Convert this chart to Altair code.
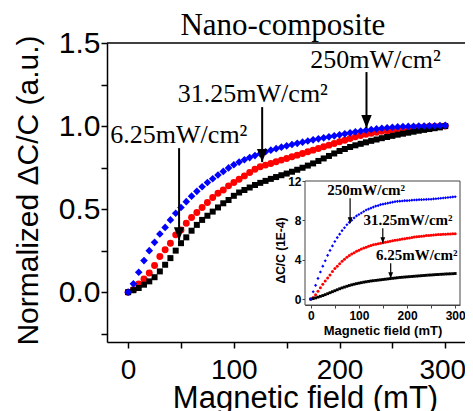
import altair as alt
import pandas as pd

# ---------------- data ----------------
FIELD = [0, 5, 10, 15, 20, 25, 30, 35, 40, 45,
         50, 55, 60, 65, 70, 75, 80, 85, 90, 95,
         100, 105, 110, 115, 120, 125, 130, 135, 140, 145,
         150, 155, 160, 165, 170, 175, 180, 185, 190, 195,
         200, 205, 210, 215, 220, 225, 230, 235, 240, 245,
         250, 255, 260, 265, 270, 275, 280, 285, 290, 295,
         300]

MAIN_250 = [0, 0.05, 0.12, 0.19, 0.25, 0.30, 0.35, 0.39, 0.435, 0.475,
            0.51, 0.545, 0.578, 0.607, 0.635, 0.66, 0.683, 0.705, 0.727, 0.748,
            0.767, 0.783, 0.797, 0.81, 0.822, 0.834, 0.845, 0.855, 0.864, 0.873,
            0.881, 0.889, 0.896, 0.903, 0.91, 0.917, 0.923, 0.929, 0.935, 0.941,
            0.947, 0.953, 0.959, 0.965, 0.97, 0.975, 0.979, 0.983, 0.987, 0.99,
            0.993, 0.995, 0.997, 0.998, 0.999, 1.0, 1.0, 1.001, 1.002, 1.003,
            1.004]
MAIN_31 = [0, 0.015, 0.05, 0.08, 0.115, 0.16, 0.215, 0.255, 0.295, 0.345,
           0.375, 0.415, 0.45, 0.48, 0.51, 0.54, 0.57, 0.595, 0.615, 0.64,
           0.66, 0.68, 0.70, 0.72, 0.74, 0.755, 0.765, 0.775, 0.785, 0.795,
           0.805, 0.815, 0.825, 0.835, 0.845, 0.855, 0.865, 0.875, 0.885, 0.895,
           0.905, 0.915, 0.925, 0.935, 0.943, 0.95, 0.957, 0.963, 0.968, 0.972,
           0.976, 0.98, 0.984, 0.987, 0.99, 0.993, 0.995, 0.997, 0.998, 0.999,
           1.0]
MAIN_6 = [0, 0.012, 0.025, 0.045, 0.065, 0.09, 0.125, 0.165, 0.205, 0.25,
          0.295, 0.33, 0.37, 0.405, 0.435, 0.46, 0.485, 0.51, 0.535, 0.555,
          0.58, 0.6, 0.615, 0.63, 0.645, 0.658, 0.67, 0.682, 0.693, 0.704,
          0.714, 0.725, 0.737, 0.749, 0.762, 0.775, 0.79, 0.805, 0.82, 0.835,
          0.85, 0.862, 0.874, 0.884, 0.893, 0.902, 0.911, 0.919, 0.927, 0.934,
          0.941, 0.948, 0.954, 0.96, 0.966, 0.972, 0.977, 0.982, 0.987, 0.992,
          1.0]

INSET_250 = [0, 0.75, 1.4, 2.1, 2.75, 3.35, 3.9, 4.45, 4.95, 5.4,
             5.85, 6.25, 6.6, 6.95, 7.25, 7.55, 7.8, 8.0, 8.25, 8.45,
             8.6, 8.75, 8.9, 9.05, 9.15, 9.25, 9.35, 9.45, 9.5, 9.6,
             9.65, 9.7, 9.75, 9.8, 9.85, 9.9, 9.93, 9.95, 9.97, 10.0,
             10.0, 10.02, 10.05, 10.07, 10.08, 10.1, 10.1, 10.12, 10.13, 10.15,
             10.15, 10.18, 10.2, 10.22, 10.25, 10.27, 10.3, 10.32, 10.35, 10.38,
             10.4]
INSET_31 = [0, 0.15, 0.45, 0.8, 1.15, 1.5, 1.85, 2.15, 2.45, 2.8,
            3.1, 3.35, 3.6, 3.85, 4.05, 4.25, 4.42, 4.58, 4.72, 4.85,
            4.97, 5.08, 5.18, 5.28, 5.37, 5.45, 5.52, 5.58, 5.63, 5.68,
            5.73, 5.78, 5.83, 5.88, 5.93, 5.97, 6.01, 6.05, 6.1, 6.14,
            6.18, 6.22, 6.26, 6.3, 6.33, 6.36, 6.39, 6.42, 6.45, 6.47,
            6.5, 6.52, 6.54, 6.56, 6.57, 6.59, 6.6, 6.61, 6.62, 6.63,
            6.64]
INSET_6 = [0, 0.05, 0.12, 0.2, 0.28, 0.36, 0.45, 0.55, 0.65, 0.75,
           0.85, 0.95, 1.05, 1.14, 1.22, 1.3, 1.38, 1.45, 1.51, 1.57,
           1.62, 1.67, 1.72, 1.76, 1.8, 1.84, 1.87, 1.9, 1.93, 1.96,
           1.99, 2.02, 2.05, 2.08, 2.11, 2.14, 2.17, 2.2, 2.22, 2.24,
           2.26, 2.28, 2.3, 2.32, 2.34, 2.36, 2.38, 2.4, 2.42, 2.44,
           2.45, 2.47, 2.49, 2.5, 2.52, 2.53, 2.55, 2.56, 2.57, 2.58,
           2.6]

SERIES = ["250mW/cm²", "31.25mW/cm²", "6.25mW/cm²"]
COLORS = ["#0000ff", "#ff0000", "#000000"]
SHAPES = ["diamond", "circle", "square"]

TITLE = ["Nano-composite"]
TITLE_X = [146.4]
TITLE_Y = [1.548]

MAIN_X_DOMAIN = [-20, 318.7]
MAIN_Y_DOMAIN = [-0.3, 1.5]
MAIN_X_TICKS = [0, 50, 100, 150, 200, 250, 300]
MAIN_Y_TICKS = [-0.25, 0, 0.25, 0.5, 0.75, 1.0, 1.25, 1.5]

INSET_X_DOMAIN = [-12, 310]
INSET_Y_DOMAIN = [-0.6, 12]
INSET_X_TICKS = [0, 50, 100, 150, 200, 250, 300]
INSET_Y_TICKS = [0, 4, 8, 12]

# annotation anchors (data units)
MAIN_LABEL_X = [234, 118, 48]
MAIN_LABEL_Y = [1.348, 1.146, 0.896]
MAIN_ARROW_X = [225.5, 126.8, 48.2]
MAIN_ARROW_Y0 = [1.325, 1.114, 0.867]
MAIN_ARROW_Y1 = [0.988, 0.783, 0.313]

INSET_LABEL_X = [115, 202, 220]
INSET_LABEL_Y = [10.58, 7.53, 3.97]
INSET_ARROW_X = [81.7, 149.6, 166]
INSET_ARROW_Y0 = [10.24, 7.2, 3.64]
INSET_ARROW_Y1 = [7.7, 5.67, 2.11]

# ---------------- layout ----------------
W, H = 358, 299
INSET_RANGE_X = [198, 353]
INSET_RANGE_Y = [262, 138]
ARROW_PATH = "M-0.4,-1L0.4,-1L0,0Z"

SANS = "Liberation Sans"
SERIF = "Liberation Serif"

MX = alt.Scale(domain=MAIN_X_DOMAIN, nice=False, zero=False)
MY = alt.Scale(domain=MAIN_Y_DOMAIN, nice=False, zero=False)
IX = alt.Scale(domain=INSET_X_DOMAIN, range=INSET_RANGE_X, nice=False, zero=False)
IY = alt.Scale(domain=INSET_Y_DOMAIN, range=INSET_RANGE_Y, nice=False, zero=False)

main_x_axis = alt.Axis(
    orient="bottom", values=MAIN_X_TICKS,
    labelExpr="datum.value % 100 === 0 ? datum.label : ''",
    labelOffset={"condition": {"test": "datum.value === 300", "value": -3}, "value": 0},
    grid=False, tickSize=6, tickWidth=1.5, tickColor="black",
    domainColor="black", domainWidth=1.5,
    labelFont=SANS, labelFontSize=28, labelColor="black", labelPadding=8,
    labelFlush=False, labelOverlap=False,
    title="Magnetic field (mT)", titleFont=SANS, titleFontSize=31,
    titleFontWeight="normal", titleColor="black",
    titleX=198, titleY=65, titleBaseline="alphabetic", titleAlign="center",
)
main_y_axis = alt.Axis(
    orient="left", values=MAIN_Y_TICKS,
    labelExpr="abs(datum.value * 2 - round(datum.value * 2)) < 0.001 ? format(datum.value, '.1f') : ''",
    grid=False, tickSize=6, tickWidth=1.5, tickColor="black",
    domainColor="black", domainWidth=1.5,
    labelFont=SANS, labelFontSize=30, labelColor="black", labelPadding=1,
    labelFlush=False, labelOverlap=False,
    title="Normalized ΔC/C (a.u.)", titleFont=SANS, titleFontSize=30,
    titleFontWeight="normal", titleColor="black", titleAngle=270,
    titleX=-79, titleY=147, titleBaseline="middle", titleAlign="center",
)
inset_x_axis = alt.Axis(
    orient="bottom", offset=-37, values=INSET_X_TICKS,
    labelExpr="datum.value % 100 === 0 ? datum.label : ''",
    grid=False, tickSize=3, tickWidth=1, tickColor="#444444",
    domainColor="#444444", domainWidth=1,
    labelFont=SANS, labelFontSize=12, labelFontWeight="bold", labelColor="black",
    labelPadding=2, labelFlush=False, labelOverlap=False,
    title="Magnetic field (mT)", titleFont=SANS, titleFontSize=13,
    titleFontWeight="bold", titleColor="black",
    titleY=29, titleBaseline="alphabetic",
)
inset_y_axis = alt.Axis(
    orient="left", offset=-198, values=INSET_Y_TICKS,
    grid=False, tickSize=3, tickWidth=1, tickColor="#444444",
    domainColor="#444444", domainWidth=1,
    labelFont=SANS, labelFontSize=12, labelFontWeight="bold", labelColor="black",
    labelPadding=1, labelFlush=False, labelOverlap=False,
    title="ΔC/C (1E-4)", titleFont=SANS, titleFontSize=12,
    titleFontWeight="bold", titleColor="black", titleAngle=270,
    titleX=-25, titleY=207, titleBaseline="middle", titleAlign="center",
)


def mx(f):
    return alt.X(f"{f}:Q", scale=MX, axis=main_x_axis)


def my(f):
    return alt.Y(f"{f}:Q", scale=MY, axis=main_y_axis)


def ix(f):
    return alt.X(f"{f}:Q", scale=IX, axis=inset_x_axis)


def iy(f):
    return alt.Y(f"{f}:Q", scale=IY, axis=inset_y_axis)


main_vals = [MAIN_250, MAIN_31, MAIN_6]
inset_vals = [INSET_250, INSET_31, INSET_6]
MAIN_SIZES = [58, 48, 36]
INSET_SIZES = [10, 9, 8]
ORDER = [1, 2, 0]  # red, black, blue on top

# ---------------- main plot ----------------
main_layers = []
top_df = pd.DataFrame({"ytop": [MAIN_Y_DOMAIN[1]]})
main_layers.append(
    alt.Chart(top_df).mark_rule(color="black", strokeWidth=1.5).encode(y=my("ytop"))
)
for i in ORDER:
    df = pd.DataFrame({"field": FIELD, "value": main_vals[i]})
    main_layers.append(
        alt.Chart(df).mark_point(shape=SHAPES[i], filled=True, color=COLORS[i],
                                 size=MAIN_SIZES[i], opacity=1, strokeWidth=0)
        .encode(x=mx("field"), y=my("value"))
    )

m_ann = pd.DataFrame({"label": SERIES, "lx": MAIN_LABEL_X, "ly": MAIN_LABEL_Y,
                      "ax": MAIN_ARROW_X, "ay0": MAIN_ARROW_Y0, "ay1": MAIN_ARROW_Y1})
main_layers.append(
    alt.Chart(m_ann).mark_rule(color="black", strokeWidth=2)
    .encode(x=mx("ax"), y=my("ay0"), y2=alt.Y2("ay1"))
)
main_layers.append(
    alt.Chart(m_ann).mark_point(shape=ARROW_PATH, filled=True, color="black",
                                size=676, opacity=1, strokeWidth=0)
    .encode(x=mx("ax"), y=my("ay1"))
)
main_layers.append(
    alt.Chart(m_ann).mark_text(font=SERIF, fontSize=26, color="black",
                               align="center", baseline="alphabetic")
    .encode(x=mx("lx"), y=my("ly"), text="label:N")
)
title_df = pd.DataFrame({"t": TITLE, "tx": TITLE_X, "ty": TITLE_Y})
main_layers.append(
    alt.Chart(title_df).mark_text(font=SERIF, fontSize=31, color="black",
                                  align="center", baseline="alphabetic")
    .encode(x=mx("tx"), y=my("ty"), text="t:N")
)
main = alt.layer(*main_layers)

# ---------------- inset ----------------
inset_layers = []
frame_df = pd.DataFrame({"x0": [INSET_X_DOMAIN[0]], "x1": [INSET_X_DOMAIN[1]],
                         "y0": [INSET_Y_DOMAIN[0]], "y1": [INSET_Y_DOMAIN[1]]})
inset_layers.append(
    alt.Chart(frame_df).mark_rect(fill="white", stroke="#444444", strokeWidth=1)
    .encode(x=ix("x0"), x2=alt.X2("x1"), y=iy("y0"), y2=alt.Y2("y1"))
)
for i in ORDER:
    df = pd.DataFrame({"field": FIELD, "value": inset_vals[i]})
    inset_layers.append(
        alt.Chart(df).mark_point(shape=SHAPES[i], filled=True, color=COLORS[i],
                                 size=INSET_SIZES[i], opacity=1, strokeWidth=0)
        .encode(x=ix("field"), y=iy("value"))
    )
i_ann = pd.DataFrame({"label": SERIES, "lx": INSET_LABEL_X, "ly": INSET_LABEL_Y,
                      "ax": INSET_ARROW_X, "ay0": INSET_ARROW_Y0, "ay1": INSET_ARROW_Y1})
inset_layers.append(
    alt.Chart(i_ann).mark_rule(color="black", strokeWidth=1.2)
    .encode(x=ix("ax"), y=iy("ay0"), y2=alt.Y2("ay1"))
)
inset_layers.append(
    alt.Chart(i_ann).mark_point(shape=ARROW_PATH, filled=True, color="black",
                                size=144, opacity=1, strokeWidth=0)
    .encode(x=ix("ax"), y=iy("ay1"))
)
inset_layers.append(
    alt.Chart(i_ann).mark_text(font=SERIF, fontSize=15, fontWeight="bold", color="black",
                               align="center", baseline="alphabetic")
    .encode(x=ix("lx"), y=iy("ly"), text="label:N")
)
inset = alt.layer(*inset_layers)

chart = (
    alt.layer(main, inset)
    .resolve_scale(x="independent", y="independent")
    .properties(
        width=W, height=H,
        autosize=alt.AutoSizeParams(type="none"),
        padding={"left": 99, "top": 35, "right": 0, "bottom": 69},
        background="white",
    )
    .configure_view(stroke="transparent")
)

chart.save("out.html", embed_options={"renderer": "svg", "actions": False})
